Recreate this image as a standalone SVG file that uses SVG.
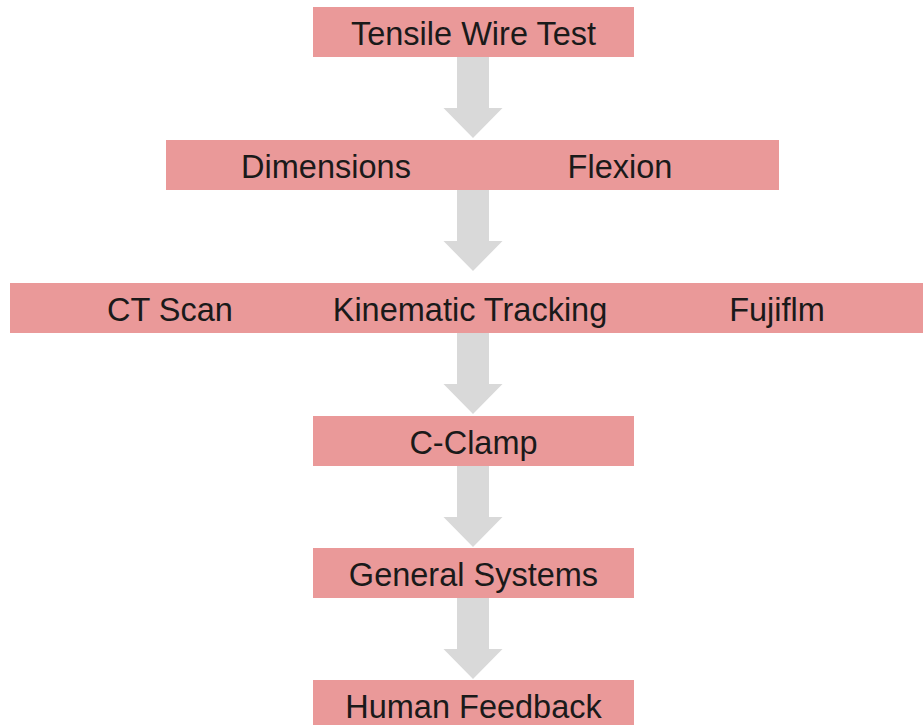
<svg xmlns="http://www.w3.org/2000/svg" width="923" height="725" viewBox="0 0 923 725">
<style>
.box{fill:#ea9999}
.lbl{font-family:"Liberation Sans",Arial,sans-serif;font-size:32.5px;fill:#1a1a1a;text-anchor:middle}
.arr{fill:#d9d9d9}
</style>
<defs>
<path id="arrow" d="M-16,0 H16 V51 H29.5 L0,81 L-29.5,51 H-16 Z"/>
</defs>
<rect width="923" height="725" fill="#ffffff"/>
<g id="connectors">
<use href="#arrow" class="arr" transform="translate(473,57)"/>
<use href="#arrow" class="arr" transform="translate(473,190)"/>
<use href="#arrow" class="arr" transform="translate(473,333)"/>
<use href="#arrow" class="arr" transform="translate(473,466)"/>
<use href="#arrow" class="arr" transform="translate(473,598)"/>
</g>
<g id="tensile">
<rect class="box" x="313" y="7" width="321" height="50"/>
<text class="lbl" x="473.5" y="44.5">Tensile Wire Test</text>
</g>
<g id="row2">
<rect class="box" x="166" y="140" width="613" height="50"/>
<text class="lbl" x="326" y="177.5">Dimensions</text>
<text class="lbl" x="620" y="177.5">Flexion</text>
</g>
<g id="row3">
<rect class="box" x="10" y="283" width="913" height="50"/>
<text class="lbl" x="170" y="320.5">CT Scan</text>
<text class="lbl" x="470" y="320.5">Kinematic Tracking</text>
<text class="lbl" x="777" y="320.5">Fujiflm</text>
</g>
<g id="cclamp">
<rect class="box" x="313" y="416" width="321" height="50"/>
<text class="lbl" x="473.5" y="453.5">C-Clamp</text>
</g>
<g id="general">
<rect class="box" x="313" y="548" width="321" height="50"/>
<text class="lbl" x="473.5" y="585.5">General Systems</text>
</g>
<g id="human">
<rect class="box" x="313" y="680" width="321" height="50"/>
<text class="lbl" x="473.5" y="717.5">Human Feedback</text>
</g>
</svg>
